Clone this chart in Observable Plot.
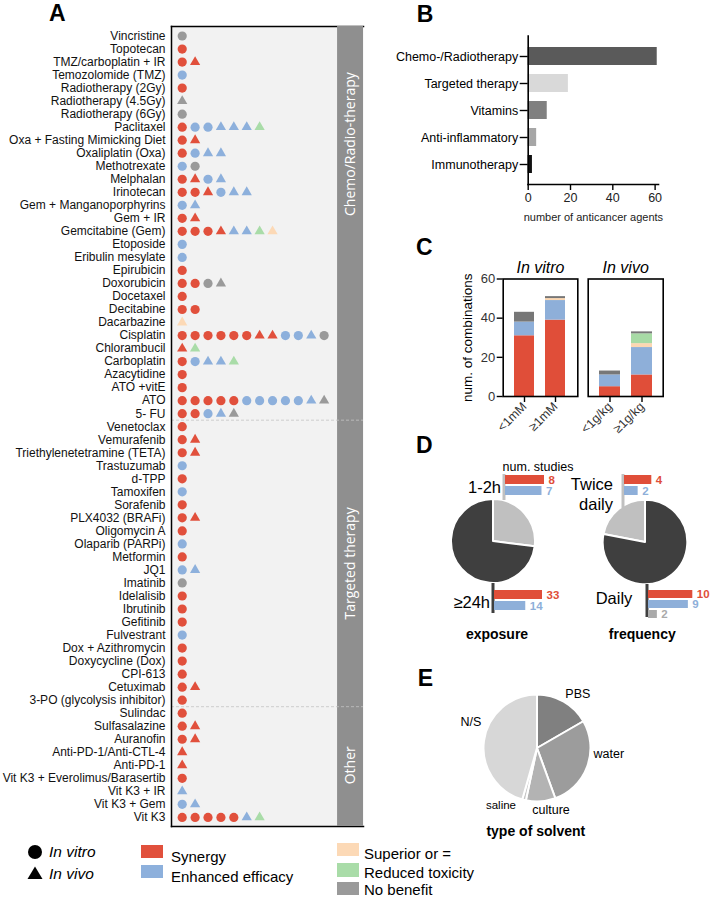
<!DOCTYPE html>
<html><head><meta charset="utf-8">
<script src="https://cdn.jsdelivr.net/npm/d3@7"></script>
<script src="https://cdn.jsdelivr.net/npm/@observablehq/plot@0.6"></script>
<style>
body{margin:0;background:#fff;}
#fig{position:relative;width:712px;height:897px;overflow:hidden;font-family:"Liberation Sans",Arial,Helvetica,sans-serif;}
</style></head><body><div id="fig"></div>
<script>
// ---------------- DATA ----------------
// Panel A
const drugs = ["Vincristine","Topotecan","TMZ/carboplatin + IR","Temozolomide (TMZ)","Radiotherapy (2Gy)","Radiotherapy (4.5Gy)","Radiotherapy (6Gy)","Paclitaxel","Oxa + Fasting Mimicking Diet","Oxaliplatin (Oxa)","Methotrexate","Melphalan","Irinotecan","Gem + Manganoporphyrins","Gem + IR","Gemcitabine (Gem)","Etoposide","Eribulin mesylate","Epirubicin","Doxorubicin","Docetaxel","Decitabine","Dacarbazine","Cisplatin","Chlorambucil","Carboplatin","Azacytidine","ATO +vitE","ATO","5- FU","Venetoclax","Vemurafenib","Triethylenetetramine (TETA)","Trastuzumab","d-TPP","Tamoxifen","Sorafenib","PLX4032 (BRAFi)","Oligomycin A","Olaparib (PARPi)","Metformin","JQ1","Imatinib","Idelalisib","Ibrutinib","Gefitinib","Fulvestrant","Dox + Azithromycin","Doxycycline (Dox)","CPI-613","Cetuximab","3-PO (glycolysis inhibitor)","Sulindac","Sulfasalazine","Auranofin","Anti-PD-1/Anti-CTL-4","Anti-PD-1","Vit K3 + Everolimus/Barasertib","Vit K3 + IR","Vit K3 + Gem","Vit K3"];
// c = in vitro (circle), t = in vivo (triangle); S synergy, E enhanced efficacy, U superior or =, T reduced toxicity, N no benefit
const markers = ["cN","cS","cS tS","cE","cS","tN","cN","cS cE cE tE tE tE tT","cS tS","cS cE tE tE","cE cN","cS tS cE tE","cS cS tS cE tE tE","cE tE","cS tS","cS cS cS tS tE tE tT tU","cE","cE","cS","cS cS cN tN","cS","cS cS","tU","cS cS cS cS cS cS tS tS cE cE tE cN","tS tT","cS cE tE tE tT","cS","cS","cS cS cS cS cS cE cE cE cE cE tE tN","cS cS cE tE tN","cS","cS tS","cS tS","cE","cS","cE","cS","cS tS","cS","cE","cS","cE tE","cN","cS","cS","cS","cE","cS","cS","cS","cS tS","cS","cS","cS tS","cS tS","tS","tS","cS","tE","cE tE","cS cS cS cS cS tE tT"];
const groupNames = ["Chemo/Radio-therapy","Targeted therapy","Other"];
const groupFirst = [0, 30, 52];
const groupLast = [29, 51, 60];
const outcomeCodes = ["S","E","U","T","N"];
const outcomeNames = ["Synergy","Enhanced efficacy","Superior or =","Reduced toxicity","No benefit"];
const outcomeColors = ["#E1503C","#8DB0DC","#FCD9B6","#A9DCA8","#9A9A9A"];

// Panel B
const bCats = ["Chemo-/Radiotherapy","Targeted therapy","Vitamins","Anti-inflammatory","Immunotherapy"];
const bValues = [61, 19, 9, 4, 2];
const bColors = ["#5a5a5a","#d9d9d9","#808080","#a6a6a6","#111111"];

// Panel C
const cCats = ["<1mM","≥1mM","<1g/kg","≥1g/kg"];
const cPanels = ["In vitro","In vitro","In vivo","In vivo"];
const cSynergy = [31, 39, 5, 11];
const cEnhanced = [7, 10, 6, 14];
const cSuperior = [0, 1, 0, 2];
const cToxicity = [0, 0, 0, 5];
const cNoBenefit = [5, 1, 2, 1];
const cColors = ["#E04E39","#8EAFD9","#FCD7B2","#A7DAA5","#777777"];

// Panel D
const expPieLabels = ["1-2h","≥24h"];
const expPieShare = [27, 73];
const freqPieLabels = ["Twice daily","Daily"];
const freqPieShare = [22, 78];
const expShortCodes = ["S","E"], expShortStudies = [8, 7];
const expLongCodes = ["S","E"], expLongStudies = [33, 14];
const freqTwiceCodes = ["S","E"], freqTwiceStudies = [4, 2];
const freqDailyCodes = ["S","E","N"], freqDailyStudies = [10, 9, 2];
const dColors = ["#E04E39","#8EAFD9","#AAAAAA"];

// Panel E
const solventNames = ["PBS","water","culture","saline","N/S"];
const solventCounts = [15, 25, 8, 1, 41];
const solventColors = ["#808080","#9c9c9c","#b3b3b3","#c6c6c6","#d7d7d7"];

// ---------------- HELPERS ----------------
const FONT = '"Liberation Sans", Arial, Helvetica, sans-serif';
const fig = document.getElementById("fig");
const baseStyle = {fontFamily: FONT, background: "transparent", overflow: "visible", color: "#000"};
function put(node, left, top) {
  node.style.position = "absolute"; node.style.left = left + "px"; node.style.top = top + "px";
  node.style.maxWidth = "none";
  fig.appendChild(node); return node;
}
function label(str, x, y, o = {}) {
  const d = document.createElement("div");
  d.textContent = str;
  Object.assign(d.style, {position: "absolute", left: x + "px", top: y + "px", whiteSpace: "nowrap", lineHeight: "1",
    fontFamily: o.family || FONT, fontSize: (o.size || 12) + "px", fontWeight: o.weight || "normal",
    fontStyle: o.style || "normal", color: o.color || "#000",
    transform: `translate(${o.anchor === "start" ? "0" : o.anchor === "end" ? "-100%" : "-50%"}, -50%)`});
  fig.appendChild(d); return d;
}

// ---------------- PANEL A ----------------
const records = [];
markers.forEach((s, row) => s.split(" ").forEach((m, pos) => records.push({row, pos, shape: m[0], outcome: m[1]})));
const groupLabelRow = [8.3, 40.5, 56];
const groups = groupNames.map((name, i) => ({name, first: groupFirst[i], last: groupLast[i], at: groupLabelRow[i]}));
const yDomA = [-0.73, drugs.length - 1 + 0.7];
const xDomA = [-0.83, 14.05];
const stripA = [12.04, 14.05];

const plotA = Plot.plot({
  width: 370, height: 830, marginLeft: 171, marginRight: 7, marginTop: 26, marginBottom: 4,
  style: baseStyle,
  x: {domain: xDomA, axis: null},
  y: {domain: yDomA, reverse: true, axis: null},
  color: {domain: outcomeCodes, range: outcomeColors},
  marks: [
    Plot.frame({fill: "#f2f2f2", stroke: "none"}),
    Plot.frame({anchor: "top", stroke: "#000", strokeWidth: 1.5}),
    Plot.frame({anchor: "bottom", stroke: "#000", strokeWidth: 1.5}),
    Plot.rect([0], {x1: () => stripA[0], x2: () => stripA[1], y1: () => yDomA[0], y2: () => yDomA[1], fill: "#8f8f8f"}),
    Plot.ruleY(groups.slice(1).map(g => g.first - 0.5), {stroke: "#c4c4c4", strokeDasharray: "3,2", strokeWidth: 0.8}),
    Plot.frame({anchor: "left", stroke: "#000", strokeWidth: 1.5}),
    Plot.text(groups, {x: () => (stripA[0] + stripA[1]) / 2, y: "at", text: "name", rotate: -90, fill: "#fff", fontSize: 14, fontFamily: '"Open Sans", sans-serif'}),
    Plot.dot(records.filter(d => d.shape === "c"), {x: "pos", y: "row", fill: "outcome", r: 4.6, symbol: "circle"}),
    Plot.dot(records.filter(d => d.shape === "t"), {x: "pos", y: "row", fill: "outcome", r: 3.8, symbol: "triangle"}),
    Plot.axisY(d3.range(drugs.length), {tickFormat: i => drugs[i], tickSize: 0, tickPadding: 6, fontSize: 12, fill: "#111", label: null})
  ]
});
put(plotA, 0, 0);

// ---------------- PANEL B ----------------
const bData = bCats.map((cat, i) => ({cat, value: bValues[i]}));
const plotB = Plot.plot({
  width: 290, height: 225, marginLeft: 147.7, marginRight: 12, marginTop: 35.6, marginBottom: 41,
  style: baseStyle,
  x: {domain: [0, 61.6], axis: null},
  y: {domain: bCats, padding: 0.32, axis: null},
  color: {domain: bCats, range: bColors},
  marks: [
    Plot.barX(bData, {x: "value", y: "cat", fill: "cat"}),
    Plot.frame({anchor: "left", stroke: "#000", strokeWidth: 1.6}),
    Plot.frame({anchor: "bottom", stroke: "#000", strokeWidth: 1.6}),
    Plot.axisY({tickSize: 8, tickPadding: 2, fontSize: 12.5, fill: "#000", stroke: "#000", strokeWidth: 1.4, label: null}),
    Plot.axisX([0, 20, 40, 60], {tickSize: 6, tickPadding: 3, fontSize: 12.5, fill: "#222", stroke: "#000", strokeWidth: 1.4, label: null}),
    Plot.text(["number of anticancer agents"], {frameAnchor: "bottom", dy: 33, fontSize: 11, fill: "#222", lineAnchor: "middle"})
  ]
});
put(plotB, 380, 0);

// ---------------- PANEL C ----------------
const cSeries = [cSynergy, cEnhanced, cSuperior, cToxicity, cNoBenefit];
const cRecords = [];
cCats.forEach((cat, i) => outcomeCodes.forEach((o, k) => cRecords.push({cat, o, v: cSeries[k][i], panel: cPanels[i]})));
function cPlot(panel, width, mLeft, mRight, withAxis) {
  const data = cRecords.filter(d => d.panel === panel);
  const marks = [
    Plot.barY(data, {x: "cat", y: "v", fill: "o"}),
    Plot.frame({stroke: "#000", strokeWidth: 1.6}),
    Plot.axisX({tickRotate: -45, tickSize: 6, tickPadding: 2, fontSize: 12.5, fill: "#333", stroke: "#000", strokeWidth: 1.4, label: null}),
    Plot.text([panel], {frameAnchor: "top", dy: -11, fontSize: 16, fontStyle: "italic", lineAnchor: "middle", fill: "#000"})
  ];
  if (withAxis) {
    marks.push(Plot.axisY([0, 20, 40, 60], {tickSize: 6, tickPadding: 2, fontSize: 13, fill: "#333", stroke: "#000", strokeWidth: 1.4, label: null}));
    marks.push(Plot.text(["num. of combinations"], {frameAnchor: "left", dx: -36, rotate: -90, fontSize: 13.5, textAnchor: "middle", fill: "#000"}));
  }
  return Plot.plot({
    width, height: 190, marginLeft: mLeft, marginRight: mRight, marginTop: 23.5, marginBottom: 49,
    style: baseStyle,
    x: {domain: [...new Set(data.map(d => d.cat))], padding: 0.34, axis: null},
    y: {domain: [0, 60], axis: null},
    color: {domain: outcomeCodes, range: cColors},
    marks
  });
}
put(cPlot("In vitro", 140, 62.7, 2.7, true), 440, 255);
put(cPlot("In vivo", 90, 7.7, 7.3, false), 580, 255);

// ---------------- PANEL D ----------------
function piePlot(values, colors, r, startAngle, size) {
  return Plot.plot({
    width: size, height: size, margin: 0, style: baseStyle,
    marks: [
      (index, scales, chans, dims) => {
        const g = d3.create("svg:g").attr("transform", `translate(${dims.width / 2},${dims.height / 2})`);
        const arcs = d3.pie().sort(null).startAngle(startAngle).endAngle(startAngle + 2 * Math.PI)(values);
        const arc = d3.arc().innerRadius(0).outerRadius(r);
        g.selectAll("path").data(arcs).join("path").attr("d", arc)
          .attr("fill", (d, i) => colors[i]).attr("stroke", "#fff").attr("stroke-width", 2).attr("stroke-linejoin", "round");
        return g.node();
      }
    ]
  });
}
const pieLight = "#c0c0c0", pieDark = "#3f3f3f";
put(piePlot(expPieShare, [pieLight, pieDark], 42, 0, 100), 442.7, 491);
const freqStart = -2 * Math.PI * freqPieShare[0] / d3.sum(freqPieShare);
put(piePlot(freqPieShare, [pieLight, pieDark], 42.3, freqStart, 100), 595, 491.7);

function dBars(codes, values, type, len, stem, width, height, mTop, mBottom, yRange) {
  const data = codes.map((o, i) => ({o, v: values[i]}));
  return Plot.plot({
    width, height, marginLeft: 10, marginRight: width - 10 - len, marginTop: mTop, marginBottom: mBottom,
    style: baseStyle,
    x: {type, domain: [0, d3.max(values)], range: [10, 10 + len], axis: null},
    y: {domain: codes, range: yRange, paddingInner: 0.2, paddingOuter: 0, axis: null},
    color: {domain: ["S", "E", "N"], range: dColors},
    marks: [
      Plot.ruleX([0], {stroke: stem, strokeWidth: 3, dx: -1.5}),
      Plot.barX(data, {x: "v", y: "o", fill: "o"}),
      Plot.text(data, {x: "v", y: "o", text: "v", fill: "o", dx: 4, textAnchor: "start", fontSize: 11.5, fontWeight: "bold"})
    ]
  });
}
put(dBars(expShortCodes, expShortStudies, "sqrt", 39, pieLight, 70, 40, 9, 5, [9, 30.5]), 495, 465);
put(dBars(expLongCodes, expLongStudies, "sqrt", 48, pieDark, 90, 40, 5, 5, [11, 32.5]), 484, 578);
put(dBars(freqTwiceCodes, freqTwiceStudies, "linear", 27.3, pieLight, 60, 48, 9, 5, [9, 30.5]), 614.3, 465);
put(dBars(freqDailyCodes, freqDailyStudies, "linear", 44.3, pieDark, 74, 45, 6, 6, [11, 40.5]), 638.3, 578);

label("num. studies", 538, 467, {size: 12.5});
label(expPieLabels[0], 501, 487, {size: 16.5, anchor: "end"});
label(expPieLabels[1], 490, 601.5, {size: 16.5, anchor: "end"});
label("exposure", 497, 633.5, {size: 14, weight: "bold"});
label(freqPieLabels[0].split(" ")[0], 613, 484, {size: 16.5, anchor: "end"});
label(freqPieLabels[0].split(" ")[1], 613, 504, {size: 16.5, anchor: "end"});
label(freqPieLabels[1], 614, 597.5, {size: 16.5});
label("frequency", 642.3, 633.5, {size: 14, weight: "bold"});

// ---------------- PANEL E ----------------
put(piePlot(solventCounts, solventColors, 53.5, 0, 120), 477.3, 688.3);
const solventLabelPos = [[577.8, 694], [608.8, 754], [551, 809.5], [501, 806], [470.8, 721.7]];
solventNames.forEach((n, i) => label(n, solventLabelPos[i][0], solventLabelPos[i][1], {size: n === "saline" ? 11.5 : 12.5}));
label("type of solvent", 535.8, 831, {size: 14, weight: "bold"});

// ---------------- PANEL LETTERS ----------------
label("A", 49, 13, {size: 23, weight: "bold", anchor: "start"});
label("B", 416.7, 13.5, {size: 23, weight: "bold", anchor: "start"});
label("C", 416, 247, {size: 23, weight: "bold", anchor: "start"});
label("D", 416, 445, {size: 23, weight: "bold", anchor: "start"});
label("E", 417.7, 677.5, {size: 23, weight: "bold", anchor: "start"});

// ---------------- LEGEND ----------------
function shape(kind, cx, cy) {
  const s = d3.create("svg").attr("width", 16).attr("height", 16).style("overflow", "visible");
  if (kind === "circle") s.append("circle").attr("cx", 8).attr("cy", 8).attr("r", 7).attr("fill", "#000");
  else s.append("path").attr("d", "M8,1.5L15.5,14H0.5Z").attr("fill", "#000");
  put(s.node(), cx - 8, cy - 8);
}
shape("circle", 35, 851.7);
shape("triangle", 35, 872.5);
label("In vitro", 49, 852, {size: 15.5, style: "italic", anchor: "start"});
label("In vivo", 49, 873.5, {size: 15.5, style: "italic", anchor: "start"});
function swatch(x, y, w, h, color) {
  const d = document.createElement("div");
  Object.assign(d.style, {width: w + "px", height: h + "px", background: color});
  put(d, x, y);
}
const legPos = [[141, 845, 171, 856], [141, 865, 171, 876], [336.7, 842.7, 364, 852.5], [336.7, 863.3, 364, 871.5], [336.7, 881.7, 364, 889.3]];
outcomeNames.forEach((n, i) => {
  const [sx, sy, tx, ty] = legPos[i];
  swatch(sx, sy, 22, 13.4, outcomeColors[i]);
  label(n, tx, ty, {size: 15, anchor: "start"});
});
</script></body></html>
